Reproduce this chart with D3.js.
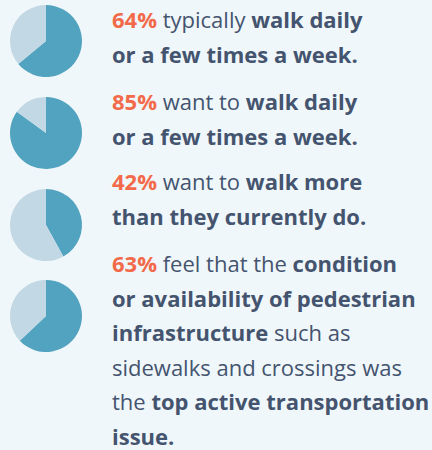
<!DOCTYPE html>
<html>
<head>
<meta charset="utf-8">
<script src="https://cdn.jsdelivr.net/npm/d3@7"></script>
<style>
  html, body { margin: 0; padding: 0; background: #f0f7fa; }
  svg { display: block; }
  .stat text { font-family: "Open Sans", "Noto Sans", sans-serif; font-size: 22px; fill: #44546f; }
  .pct { fill: #f26a4a; font-weight: 700; }
  .b { font-weight: 700; }
</style>
</head>
<body>
<svg id="chart"></svg>
<script>
const width = 432, height = 450;

// share of respondents, one pie per statement
const percents = [64, 85, 42, 63];

// statement lines, each segment is [text, bold?]
const statements = [
  [[["typically ", 0], ["walk daily", 1]], [["or a few times a week.", 1]]],
  [[["want to ", 0], ["walk daily", 1]], [["or a few times a week.", 1]]],
  [[["want to ", 0], ["walk more", 1]], [["than they currently do.", 1]]],
  [[["feel that the ", 0], ["condition", 1]],
   [["or availability of pedestrian", 1]],
   [["infrastructure", 1], [" such as", 0]],
   [["sidewalks and crossings was", 0]],
   [["the ", 0], ["top active transportation", 1]],
   [["issue.", 1]]]
];

const svg = d3.select("#chart").attr("width", width).attr("height", height);

const pieCy = [41, 133, 225, 316];
const textTop = [28, 110, 190, 272];
const lineH = 34.6;
const r = 36;

const pie = d3.pie().sort(null).value(d => d);
const arc = d3.arc().innerRadius(0).outerRadius(r);
const colors = ["#52a3bf", "#c2d8e4"];

percents.forEach(function(p, i) {
  const g = svg.append("g").attr("class", "stat");

  g.append("g")
    .attr("transform", translate(46, pieCy[i]))
    .selectAll("path")
    .data(pie([p, 100 - p]))
    .enter().append("path")
    .attr("d", arc)
    .attr("fill", (d, j) => colors[j]);

  const t = g.append("text").attr("x", 112).attr("y", textTop[i]);
  t.append("tspan").attr("class", "pct").text(p + "% ");
  statements[i].forEach(function(line, li) {
    line.forEach(function(seg, si) {
      const ts = t.append("tspan").text(seg[0]).attr("class", seg[1] ? "b" : null);
      if (si === 0 && li > 0) ts.attr("x", 112).attr("y", textTop[i] + li * lineH);
    });
  });
});

function translate(x, y) {
  return "translate(" + String(x) + "," + String(y) + ")";
}
</script>
</body>
</html>
